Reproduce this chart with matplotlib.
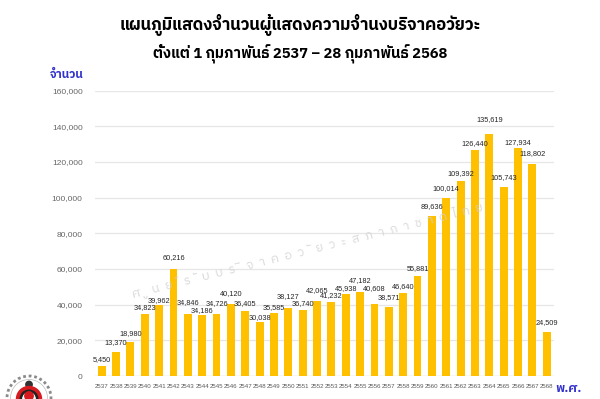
import matplotlib
matplotlib.use("Agg")
import matplotlib.pyplot as plt
from matplotlib import font_manager
from matplotlib.ft2font import FT2Font
from matplotlib.patches import Wedge, Circle

years = [str(y) for y in range(2537, 2569)]
values = [5450, 13370, 18980, 34823, 39962, 60216, 34846, 34186, 34726, 40120,
          36405, 30038, 35585, 38127, 36740, 42065, 41232, 45938, 47182, 40608,
          38571, 46640, 55881, 89636, 100014, 109392, 126440, 135619, 105743,
          127934, 118802, 24509]
yticks = [0, 20000, 40000, 60000, 80000, 100000, 120000, 140000, 160000]

title1 = "แผนภูมิแสดงจำนวนผู้แสดงความจำนงบริจาคอวัยวะ"
title2 = "ตั้งแต่ 1 กุมภาพันธ์ 2537 – 28 กุมภาพันธ์ 2568"
ylab = "จำนวน"
xlab = "พ.ศ."
watermark = "ศูนย์รับบริจาคอวัยวะสภากาชาดไทย"

# label lift above each bar top (pixels), as placed in the reference
label_lift = [7, 10, 9, 6, 4.5, 11, 11, 4.6, 11, 11, 7.7, 5, 5, 11, 6.5, 10,
              7, 6, 11, 15, 10, 6.5, 8, 10, 9, 7, 7, 14, 10, 5, 10, 10]

# find a font with Thai glyphs
thai_fonts = []
for f in font_manager.findSystemFonts():
    try:
        ft = FT2Font(f)
        cm = ft.get_charmap()
        if 0x0E01 in cm and 0x0E33 in cm:
            name = font_manager.FontProperties(fname=f).get_name()
            if name not in thai_fonts:
                thai_fonts.append(name)
    except Exception:
        pass
pref = [n for n in thai_fonts if "Sans" in n] + [n for n in thai_fonts if "Sans" not in n]
fam = pref[:1] + ["DejaVu Sans"]
plt.rcParams['font.family'] = fam
num_fam = ["Liberation Sans", "DejaVu Sans"]

fig = plt.figure(figsize=(6, 3.99), dpi=100)
ax = fig.add_axes([0.1575, 0.0576, 0.7657, 0.7155])

x = list(range(len(years)))
ax.bar(x, values, width=0.55, color="#FFC000", zorder=3)
ax.set_xlim(-0.5, 31.5)
ax.set_ylim(0, 160000)
ax.set_yticks(yticks)
ax.set_yticklabels([f"{v:,}" for v in yticks], fontsize=6, color="#666666",
                   family=num_fam)
ax.set_xticks(x)
ax.set_xticklabels(years, fontsize=4.4, color="#595959", family=num_fam)
ax.tick_params(length=0)
ax.tick_params(axis='x', pad=5.5)
ax.tick_params(axis='y', pad=8.5)
ax.grid(axis='y', color="#e6e6e6", linewidth=0.9, zorder=0)
for s in ax.spines.values():
    s.set_visible(False)
ax.axhline(0, color="#d9d9d9", linewidth=0.9, zorder=2)

for xi, v, lift in zip(x, values, label_lift):
    ax.annotate(f"{v:,}", (xi, v), xytext=(0, lift), textcoords="offset pixels",
                ha="center", va="center", fontsize=5.3, color="#262626",
                family=num_fam, zorder=5)

fig.text(0.5, 1 - 24.5 / 399, title1, ha="center", va="center", fontsize=12,
         color="#000000", fontweight="bold")
fig.text(0.5, 1 - 53 / 399, title2, ha="center", va="center", fontsize=10.5,
         color="#000000", fontweight="bold")
fig.text(0.112, 1 - 74 / 399, ylab, ha="center", va="center", fontsize=8.5,
         color="#3333cc", fontweight="bold")
fig.text(0.947, 1 - 388 / 399, xlab, ha="center", va="center", fontsize=9,
         color="#3333cc", fontweight="bold")

# faint watermark
spaced = "  ".join(list(watermark))
fig.text(0.513, 0.373, spaced, ha="center", va="center", fontsize=9,
         color="#d0d0d0", alpha=0.8, rotation=14, style="italic", zorder=1)

# logo approximation (pixel coordinates, y measured up from the bottom edge)
lax = fig.add_axes([0, 0, 60 / 600, 40 / 399])
lax.set_xlim(0, 60); lax.set_ylim(0, 40)
lax.axis("off")
lax.add_patch(Circle((29, 1), 22, fill=False, ec="#8a8a8a", lw=2.0, ls=(0, (1, 1))))
lax.add_patch(Circle((29, 1), 18.5, fill=False, ec="#bbbbbb", lw=0.5))
lax.add_patch(Circle((29, 14.5), 3.2, color="#333333"))
lax.add_patch(Wedge((29, 0), 12.5, 0, 180, width=3.5, color="#d71920"))
lax.add_patch(Wedge((29, 0), 8.8, 0, 180, width=1.2, color="#222222"))
lax.add_patch(Circle((29, 3), 4.2, color="#d71920"))

fig.savefig("out.png", dpi=100)
